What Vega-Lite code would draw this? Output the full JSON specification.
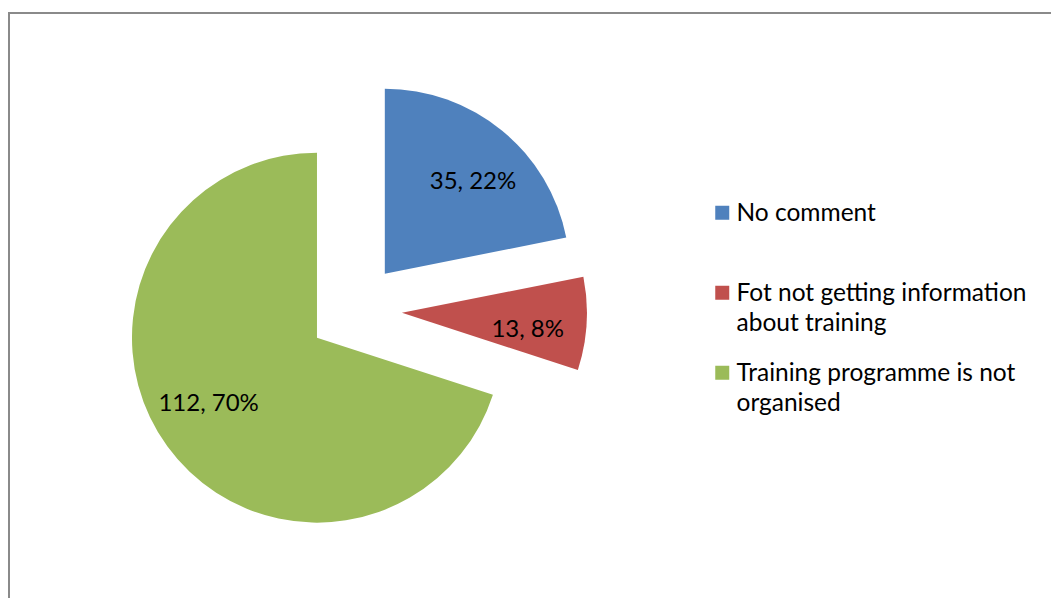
{
  "$schema": "https://vega.github.io/schema/vega-lite/v6.json",
  "width": 1044,
  "height": 594,
  "padding": {"left": 9, "top": 13, "right": 0, "bottom": 0},
  "autosize": {"type": "pad"},
  "view": {"stroke": "#8a8a8a", "strokeWidth": 2},
  "config": {
    "style": {"guide-label": {"lineHeight": 30}}
  },
  "data": {
    "values": [
      {"category": "No comment", "count": 35, "label": "35, 22%", "order": 1},
      {"category": "Fot not getting information about training", "count": 13, "label": "13, 8%", "order": 2},
      {"category": "Training programme is not organised", "count": 112, "label": "112, 70%", "order": 3}
    ]
  },
  "encoding": {
    "theta": {"field": "count", "type": "quantitative", "stack": true},
    "order": {"field": "order", "type": "quantitative"},
    "color": {
      "field": "category",
      "type": "nominal",
      "scale": {
        "domain": ["No comment", "Fot not getting information about training", "Training programme is not organised"],
        "range": ["#4F81BD", "#C0504D", "#9BBB59"]
      },
      "legend": {
        "orient": "none",
        "legendX": 701,
        "legendY": 196,
        "title": null,
        "padding": 0,
        "labelFont": "Lato",
        "labelFontSize": 24.5,
        "labelColor": "#000000",
        "labelLimit": 500,
        "labelOffset": 2,
        "labelBaseline": "alphabetic",
        "symbolType": "M-1,-2.214H1V-0.214H-1Z",
        "symbolSize": 196,
        "symbolStrokeWidth": 0,
        "rowPadding": 25,
        "gridAlign": "all",
        "labelExpr": "datum.label == 'Fot not getting information about training' ? ['Fot not getting information', 'about training'] : datum.label == 'Training programme is not organised' ? ['Training programme is not', 'organised'] : datum.label"
      }
    }
  },
  "layer": [
    {
      "mark": {
        "type": "arc",
        "outerRadius": 185,
        "xOffset": {"expr": "-176 + 47*sin(PI*(datum.count_start+datum.count_end)/160)"},
        "yOffset": {"expr": "-47*cos(PI*(datum.count_start+datum.count_end)/160)"}
      }
    },
    {
      "mark": {
        "type": "text",
        "radius": 127,
        "thetaOffset": 0.08,
        "font": "Lato",
        "fontSize": 24,
        "xOffset": {"expr": "-176 + 47*sin(PI*(datum.count_start+datum.count_end)/160)"},
        "yOffset": {"expr": "-47*cos(PI*(datum.count_start+datum.count_end)/160)"}
      },
      "encoding": {
        "text": {"field": "label", "type": "nominal"},
        "color": {"value": "#000000"}
      }
    }
  ]
}
